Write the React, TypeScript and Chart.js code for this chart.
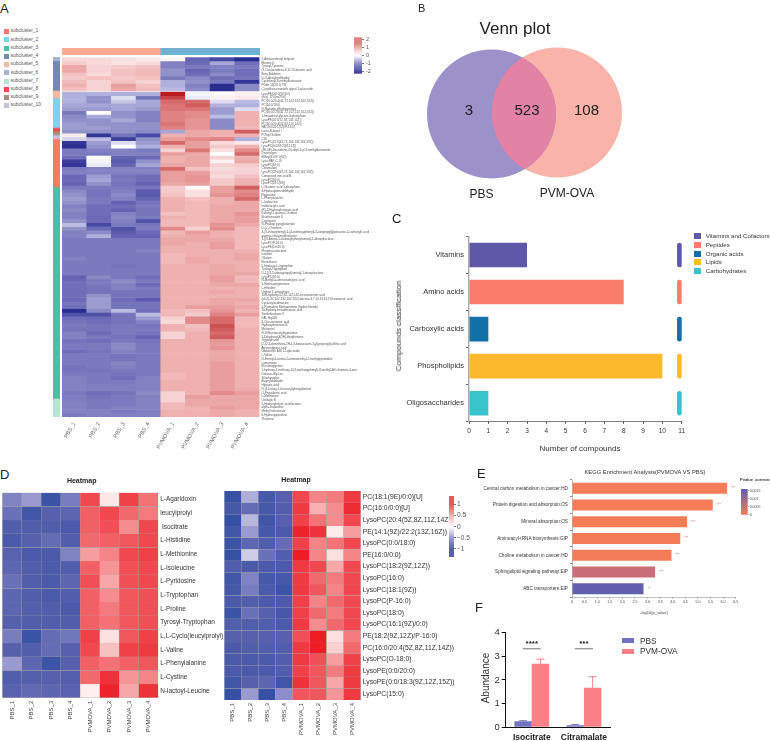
import React, { useEffect, useRef } from "react";
import { Chart, registerables } from "chart.js";

Chart.register(...registerables);

const FONT = "'Liberation Sans', Arial, sans-serif";

// ---------- Panel A ----------
const clusterLegend = ["subcluster_1","subcluster_2","subcluster_3","subcluster_4","subcluster_5","subcluster_6","subcluster_7","subcluster_8","subcluster_9","subcluster_10"];
const clusterColors = ["#f8786a","#7fd3e8","#45c1aa","#7488b5","#fbb8a0","#a8b0d5","#b5e3d5","#f04a4f","#a89080","#d0bce0"];
const rowClusterSizes = [1,8,2,8,1,1,1,13,57,5];
const rowClusterIdx = [5,3,4,1,7,8,9,0,2,6];
const samplesA = ["PBS_1","PBS_2","PBS_3","PBS_4","PVMOVA_1","PVMOVA_2","PVMOVA_3","PVMOVA_4"];
const metaboliteNames = [
"2-Aminoisobutyl butyrate","Blenoin D","Tyrosyl-Tyrosine","(9-Oxo)octadeca-9,11,13-trienoic acid","Beta-Boldenin","D-O-Acetylmellitoidal","Cyclohexyl 3-methylbutanoate","PGde 53(24:1(7/3)","(-)-epitheo-enantiols glycol 1-glucoside",
"LysoPE(0/0:0(9Z/9:0)","(m/z) 12:0(m/20:0)","PC(16:0/20:4(4Z,7Z,10Z,13Z,16Z,19Z))","PC(14:0/18:0)","N-Nonadecylhydrogenase","PC(16:0/22:6(4Z,7Z,10Z,13Z,16Z,19Z))","1-hexadecyl glycero-3-phosphate","LysoPE(20:5(7Z,9Z,13Z,15Z))","PC(16:0/20:4(5Z,8Z,11Z,14Z))","PA(18:0/20:1(5Z)/P-16:0)",
"Lacto-N-biose I","P-Tolyl Sulfate","C16","LysoPC(22:6(4Z,7Z,10Z,13Z,16Z,19Z))","LysoPC(0:0/18:2(9Z,12Z))","(3E,5E)-Decadiene-4,6-diyn-1-yl 3-methylbutanoate","Diosmogen","BMoyl(4:0/9:1(9Z))","Lyso-PAF C-16","LysoPC(18:0)","Citramalate","LysoPC(22:6(4Z,7Z,10Z,13Z,16Z,19Z))","Compound iron acid B","LysoPC(18:0)","LysoPC(18:1(9Z))",
"L-Glutamic acid 5-phosphate","4-Hydroxybenzaldehyde","Pagosirine","L-Phenylalanine","L-Isoleucine","Indoleacrylic acid","(R)-2-Hydroxybutanoic acid","Dolichyl-Lupanoic-Ocidase","Bisdesmoside D","Corylopsin","N-Pivaloyl pyroglutamate","D-(+)-Ornithine","3-(3-chlorophenyl)-1-(4-methoxyphenyl)-3-oxopropyl]piperazine-2-carboxylic acid","gamma-Glutamylthreonine","1-[(3-Amino-5-carbonyl)phenylamino]-1-deoxyfructose","LysoPC(P-16:0)","LysoPE(0:0/20:0)","Phegmacrolactone","Isoxatin","Oliotine","Benzofuran","5-Hydroxy-L-tryptophan","Tyrosyl-Tryptophan","D-1-[(3-Carboxypropyl)amino]-1-deoxyfructose","LysoPC(18:0)","N-Methyl-a-aminoisobutyric acid","5-Methoxytryptamine","L-Histidine","Uridine 2'-phosphate","16R-hydroxy-5Z,8Z,11Z,14Z-eicosatrienoic acid","(all-Z)-3Z,10Z,13Z,16Z,19Z)-docosa-4,7,10,13,16,19-hexaenoic acid","Cyclamylosidinacine","4-Pyrimidine Methanamine (hydrochloride)","16-hydroxy-hexadecanoic acid","Senkirkinolone II","KAI, Hg068","8-Oxo-nonenoic acid","Hydroxydestrusin B","Malvenin I","N-Trifluoroacetyltryptamine","2-Dihydroxy-3(2H)-thiophenone","Tryptophanol","[2-(2-1-dimethoxy-2H-1,3-benzoxazin-3-yl)propanyl]sulfinic acid","Aminoadipinic acid","Gibberellin A30 12-glucoside","L-Valine","N-Formyl-4-amino-5-aminomethyl-2-methylpyrimidine","Lamotrione","Prostinoglycone","1-hydroxy-7-methoxy-3-(3-methoxyphenyl)-8-methyl-4H-chromen-4-one","Dakosa-Gly-Leu","Sikiahyrodins","Butyrylaldehyde","Hippuric acid","N-(1-Deoxy-1-fructosyl)phenylalanine","O-Pentafarnic acid","L-Methionine","Ustilagin B","2-Hydroxybutyric acid lactone","alpha-Dopamine","Methyl nonanoate","8-Hydroxyquinoline","Thiourea"
];
const heatA = [
[.5,.5,.4,.3,.15,-1.7,-2,-2.3],[.7,.5,.4,.5,-1.2,-1.6,-.8,-1.5],[1.1,.6,.7,.8,-1.2,-1.3,-1.2,-1.3],[1.1,.6,.8,.9,-1,-1.7,-1.3,-1.5],[.8,.5,.8,.9,-1,-1.5,-1.1,-1.5],[.7,.8,.7,.8,-1.3,-1.1,-1.5,-1.4],[.9,.6,.8,.6,-.7,-1,-1.3,-2.2],[1,.6,1.2,.8,-.7,-1.2,-2.3,-1.1],[.8,.6,1.1,.9,-.6,-1.1,-2.3,-1.1],
[-.7,-.7,-.7,-.7,2.3,-.1,.1,.2],[-.7,-1,-.3,-1.4,2,-.2,.2,.3],[-.7,-1,-.5,-.8,1.7,1.7,-.3,-.6],[-.8,-.8,-.8,-.8,1.6,1.8,-.7,-.7],[-.9,-.9,-.8,-.9,1.6,1.6,-.9,-.3],[-1.3,.05,-1,-1.2,1.5,1.4,-.9,1],[-1.1,-.8,-1,-1.2,1.5,1.4,-.6,1],[-1,-1,-.8,-1.2,1.5,1.3,-1.1,1],[-.9,-1,-1,-1,1.6,1.3,-1.1,1],[-.9,-.9,-1,-1,1.5,1.3,-1.1,.9],
[-1,-1,-1,-1.1,-.8,1.1,1,1.8],[.25,-2.2,-1.4,-2,1,1.1,1,1],[-.4,-.6,-2.1,-1,1.2,1.4,1.5,-.7],[-2.2,-.9,-.3,-.9,1.7,1.2,.5,.3],[-2.4,-1,0,-.7,1,1.2,.7,1],[-1.3,-1.2,-1.2,-1.3,.6,1.6,.4,1.4],[-1.3,-1.3,-1.2,-1.2,1.2,1.1,0,1.7],[-1.5,.05,-1.7,-1.6,1,1.1,.6,1],[-2.1,-.1,-1.8,-1,1,1.1,.2,1.1],[-2.2,-.2,-1.7,-.8,1.1,1.1,.6,.7],[-1.3,-1.2,-1.2,-1.2,1.7,.8,.5,.6],[-1.2,-1.2,-1.2,-1.2,1.2,1.2,.6,.6],[-1.6,-.9,-1.4,-1.5,1.2,1.3,.5,.8],[-1.6,-.8,-1.3,-1.5,1.2,1.3,.7,1],[-1.7,-1,-1.4,-1.7,1.1,1.2,.7,1],
[-1.3,-1.3,-1.3,-1.4,.7,0,1.2,1.8],[-1.1,-1.4,-1.2,-1.8,.7,.4,1.2,1.4],[-1,-1.4,-1.1,-1.8,.8,.4,1.3,1.5],[-.9,-1.3,-1.2,-1.7,1,.8,1,1.7],[-1,-1.3,-1.7,-1.4,1,.9,1,1.1],[-1.2,-1.5,-1.5,-1.3,1,.9,1.1,1.1],[-1.1,-1.5,-1.7,-1.4,1,.9,1.1,1.1],[-1.2,-1.5,-1.2,-1.4,.8,.9,1.1,1.3],[-1.2,-1.6,-1.1,-1.3,1,.9,1.1,1.2],[-1,-1.6,-1.2,-1.9,.9,.9,1.1,1.2],[-.6,-2,-1.3,-1.4,.9,.9,1.3,1.1],[-1,-1.6,-1.9,-1.3,1.4,.6,1.4,.9],[-1.2,-1.1,-1.8,-1.6,.9,1.2,1,.9],[-1.2,-.7,-1.7,-1.7,1,1.1,1,.9],
[-1.3,-1.3,-1.3,-1.3,1.1,1.1,1.1,.9],[-1.3,-1.3,-1.3,-1.3,1.1,1,1.2,.9],[-1.3,-1.3,-1.3,-1.3,1,1,1.2,.9],[-1.3,-1.3,-1.3,-1.2,1,1,1,1],[-1.3,-1.3,-1.3,-1.3,.9,1,1,1.1],[-1.2,-1.3,-1.3,-1.3,.9,1.1,1,1.1],[-1.3,-1.3,-1.3,-1.3,.9,1.1,1,1],[-1.3,-1.3,-1.4,-1.3,1,1,1.1,1],[-1.3,-1.3,-1.3,-1.3,1,1,1.1,1],[-1.3,-1.3,-1.3,-1.3,1,1,1.1,1.1],
[-1.7,-1.1,-1.3,-1.5,1,1,1.2,.9],[-1.6,-1.3,-1.1,-1.3,1,1,1.2,.9],[-1.5,-1.3,-1.2,-1.6,1,1,1.1,1.1],[-1.5,-1.4,-1.2,-1.3,1,1,1,1],[-1.5,-1.4,-1.4,-1.4,1,1,1.1,1],[-1.5,-1,-1.4,-1.4,1,1,1,1],[-1.6,-.9,-1.5,-1.8,1,1,1.1,1.1],[-1.4,-.9,-1.4,-1.4,1,1,1.1,1],[-1.5,-.9,-1.4,-1.4,1,1.2,1.2,1.1],[-2.4,-1.1,-.6,-1.5,.9,.8,1.3,1],[-1.9,-1.9,-1.4,-.6,.9,.7,1.5,1.2],[-1.5,-1.6,-1.4,-.9,.6,1.4,1.7,.9],[-1.4,-1.5,-1.4,-1.2,.5,1.4,1.7,.9],[-1.3,-1.4,-1.3,-1.4,1,.8,1.9,.9],[-1.4,-1.4,-1.3,-1.3,1,.9,1.8,1],[-1.2,-1.5,-1.3,-1.4,.6,1,1.7,1],[-1.2,-1.3,-1.4,-1.7,.6,1,1.8,1],[-1.4,-1.5,-1.3,-1.4,1,1,1.3,1],[-1.3,-1.3,-1.1,-1.3,1,1,1.2,1],[-1.3,-1.3,-1.1,-1.3,1,1,1.3,1],[-1.5,-1.4,-1.2,-1.3,1,1,1.1,1],[-1.3,-1.3,-1.4,-1.3,1,1,1.1,1],[-1.3,-1.3,-1.4,-1.3,1,1,1.1,1],
[-1.3,-1.3,-1.15,-1.3,1,1,1.2,1],[-1.4,-1.3,-1.2,-1.3,1,1,1.2,1],[-1.4,-1.4,-1.3,-1.3,1,1,1.2,1],[-1.3,-1.3,-1.4,-1.3,.9,1,1.2,1],[-1.2,-1.3,-1.5,-1.2,.9,1,1.2,1],[-1.2,-1.3,-1.3,-1.2,1,1,1.2,1],[-1.2,-1.25,-1.25,-1.2,1,1,1.2,1],[-1.2,-1.25,-1.25,-1.2,1,1,1.2,1.05],[-1.3,-1.5,-1.4,-1.1,.6,1,1.4,1.2],[-1.25,-1.4,-1.3,-1.2,.6,1.2,1.1,1.1],[-1.25,-1.3,-1.3,-1.2,.6,1.1,1.1,1.1],[-1.2,-1.3,-1.3,-1.2,.9,1.1,1.1,1.1],[-1.2,-1.3,-1.2,-1.2,.9,1,1.2,1.1],[-1.2,-1.2,-1.3,-1.2,1,1,1.1,1],[-1.3,-1.2,-1.2,-1.2,1,1,1.1,1]
];
const topGroupColors = ["#fcab90","#fcab90","#fcab90","#fcab90","#6fb1cf","#6fb1cf","#6fb1cf","#6fb1cf"];
const stopsA: [number, string][] = [[-2.3,"#2a2d90"],[-2,"#4848a5"],[-1.7,"#6464b3"],[-1.3,"#7a7abf"],[-1,"#9292cb"],[-.7,"#b0b0dd"],[-.2,"#eaeaf6"],[0,"#ffffff"],[.6,"#f6d2d2"],[1,"#efb0b0"],[1.5,"#e08282"],[2.3,"#b81c20"]];
const ticksBarA = [2,1,0,-1,-2];

// ---------- Panel B ----------
const vennNames = ["PBS","PVM-OVA"];
const vennCounts = [3,523,108];

// ---------- Panel C ----------
const classNames = ["Vitamins","Amino acids","Carboxylic acids","Phospholipids","Oligosaccharides"];
const classCounts = [3,8,1,10,1];
const classLegend = ["Vitamins and Cofactors","Peptides","Organic acids","Lipids","Carbohydrates"];
const classColors = ["#5f58a6","#f97d6a","#1170a5","#fdb92e","#38c4cc"];

// ---------- Panel D ----------
const samplesD = ["PBS_1","PBS_2","PBS_3","PBS_4","PVMOVA_1","PVMOVA_2","PVMOVA_3","PVMOVA_4"];
const namesD1 = ["L-Agaridoxin","leucylprolyl"," Isocitrate","L-Histidine","L-Methionine","L-Isoleucine","L-Pyridosine","L-Tryptophan","L-Proline","Tyrosyl-Tryptophan","L,L-Cyclo(leucylprolyl)","L-Valine","L-Phenylalanine","L-Cystine","N-lactoyl-Leucine"];
const heatD1 = [
[-.7,-.5,-1.25,-.75,1.1,.15,1.15,.85],[-.85,-1.2,-1,-.95,.95,1.1,.9,.8],[-1.05,-1.05,-1.05,-1.1,.95,1.05,.7,1.1],[-1.1,-1,-.9,-1.05,.9,.95,1,1.1],[-.98,-1.1,-1.1,-.7,.6,.75,1.1,1.15],[-.95,-1.05,-1.1,-1.05,.95,.65,1.05,1.1],[-.85,-1.05,-1.1,-.95,1.05,.55,1.05,1.1],[-.95,-1.05,-1.1,-1.05,.95,.7,1,1.05],[-.95,-1.02,-1.05,-1.1,.95,.8,1,1.05],[-1,-1.05,-1.05,-1.05,.95,.85,1,1.05],[-.75,-1.25,-.9,-.8,1.15,.2,1,1.15],[-1,-1.05,-.9,-1,1.1,.4,1.15,1.2],[-.5,-.95,-1.25,-1,.95,.85,.95,1],[-1.05,-1.02,-1,-1.02,.9,1.25,.65,.75],[-.98,-.92,-.95,-.98,.1,1.35,.55,1.25]
];
const namesD2 = ["PC(18:1(9E)/0:0)[U]","PC(16:0/0:0)[U]","LysoPC(20:4(5Z,8Z,11Z,14Z))","PE(14:1(9Z)/22:2(13Z,16Z))","LysoPC(0:0/18:0)","PE(16:0/0:0)","LysoPC(18:2(9Z,12Z))","LysoPC(16:0)","LysoPC(18:1(9Z))","LysoPC(P-16:0)","LysoPC(18:0)","LysoPC(16:1(9Z)/0:0)","PE(18:2(9Z,12Z)/P-16:0)","PC(16:0/20:4(5Z,8Z,11Z,14Z))","LysoPC(O-18:0)","LysoPE(0:0/20:0)","LysoPE(0:0/18:3(9Z,12Z,15Z))","LysoPC(15:0)"];
const heatD2 = [
[-1.3,-.4,-1.15,-1,1.1,.75,.8,1.2],[-1.15,-.9,-1.15,-1.05,1.2,.5,.7,1.3],[-1.3,-.35,-1.2,-1,1.15,.85,.7,1.1],[-1.2,-.5,-1.15,-1.1,1.35,1.25,.12,.6],[-1.25,-.95,-1.05,-.9,1.15,.75,.85,1.1],[-1.3,-.25,-.85,-1.05,1.4,.75,.2,.75],[-1.05,-1.1,-1.1,-1.1,1.2,1.1,.55,1.1],[-1.2,-.7,-1.15,-1.15,1.2,.9,.8,1.1],[-1.15,-.75,-1.1,-1.25,1.2,1,.75,1.1],[-1.1,-1.05,-1.1,-1.1,1.15,.75,.9,1.1],[-1.25,-.85,-1,-1.15,1.15,.9,.8,1.1],[-1.05,-1.05,-1.05,-1.1,1.2,.7,.9,1.1],[-1,-1,-1,-1,1.05,1.4,.2,.8],[-1.1,-1.05,-1.05,-1.05,1.2,1.4,.3,.9],[-1.1,-1.1,-1.1,-1.05,1.2,1.05,.6,1.15],[-1.1,-1.1,-1.1,-1.05,1.15,1,.8,1.2],[-1.2,-1,-.95,-1.2,1.25,1,.55,1.2],[-1.3,-.5,-1.3,-.6,1,1,.65,1.2]
];
const stopsD: [number, string][] = [[-1.4,"#2c4ca0"],[-1,"#5660ad"],[-.5,"#9a9ad0"],[0,"#ffffff"],[.5,"#f8b0b0"],[1,"#f0575c"],[1.4,"#ee1c25"]];
const ticksBarD = [1,.5,0,-.5,-1];

// ---------- Panel E ----------
const pathways = ["Central carbon metabolism in cancer:HD","Protein digestion and absorption:OS","Mineral absorption:OS","Aminoacyl-tRNA biosynthesis:GIP","Choline metabolism in cancer:HD","Sphingolipid signaling pathway:EIP","ABC transporters:EIP"];
const pathwayValues = [6.16,5.59,4.57,4.3,3.95,3.3,2.84];
const pathwayColors = ["#f47c56","#f47c56","#f47c56","#f47c56","#f47c56","#c96e78","#6260ae"];
const pathwayStars = ["***","***","***","***","***","***","**"];
const stopsE: [number, string][] = [[0,"#f47c56"],[.0016,"#6260ae"]];
const ticksBarE = [.0015,.001,.0005,0];

// ---------- Panel F ----------
const abundanceCats = ["Isocitrate","Citramalate"];
const pbsValues = [.26,.09];
const pvmValues = [2.69,1.67];
const pbsErrorTop = [.28,.12];
const pvmErrorTop = [2.88,2.14];
const bracketValue = [3.32,3.32];
const sigStars = ["****","***"];

// ---------- helpers ----------
type Rect = { l: number; t: number; r: number; b: number };

function hexRgb(h: string) {
  return [parseInt(h.slice(1,3),16),parseInt(h.slice(3,5),16),parseInt(h.slice(5,7),16)];
}
function colorOf(v: number, stops: [number,string][]) {
  if (v <= stops[0][0]) return stops[0][1];
  for (let i = 1; i < stops.length; i++) {
    if (v <= stops[i][0]) {
      const f = (v - stops[i-1][0]) / (stops[i][0] - stops[i-1][0]);
      const a = hexRgb(stops[i-1][1]), b = hexRgb(stops[i][1]);
      return `rgb(${a.map((c,k)=>Math.round(c+(b[k]-c)*f)).join(",")})`;
    }
  }
  return stops[stops.length-1][1];
}
// fix the plot rectangle inside the canvas
function frame(c: Rect, p: Rect, yRight = false) {
  const yW = yRight ? c.r - p.r : p.l - c.l;
  const xH = c.b - p.b;
  return {
    layout: {
      autoPadding: false,
      padding: { left: yRight ? p.l - c.l : 0, right: yRight ? 0 : c.r - p.r, top: p.t - c.t, bottom: 0 },
    },
    fitX: (s: any) => { s.height = xH; },
    fitY: (s: any) => { s.width = yW; },
  };
}
const base = { responsive: false, animation: false as const, events: [] as string[] };
const noPlugins = { legend: { display: false }, tooltip: { enabled: false }, title: { display: false } };

function heatConfig(o: { c: Rect; p: Rect; rows: string[]; cols: string[]; values: number[][]; stops: [number,string][]; rowFont: number; colFont: number; rotation: number; rowColor: string; colColor: string; border?: number; gapAfter?: number; gap?: number; colPad?: number; }) {
  const f = frame(o.c, o.p, true);
  const gap = o.gap ?? 0, gapAfter = o.gapAfter ?? -1;
  const datasets: any[] = [];
  o.values.forEach((row, i) => {
    datasets.push({
      label: o.rows[i], data: row.map(() => 1),
      backgroundColor: row.map((v) => colorOf(v, o.stops)),
      borderColor: "#a8a8a8", borderWidth: o.border ?? 0, borderSkipped: false,
      barPercentage: 1, categoryPercentage: 1,
    });
    if (i === gapAfter) datasets.push({ label: "gap", data: row.map(() => gap), backgroundColor: "rgba(255,255,255,0)", barPercentage: 1, categoryPercentage: 1 });
  });
  const total = o.values.length + gap;
  const pos = o.rows.map((_, i) => i + .5 + (i > gapAfter && gapAfter >= 0 ? gap : 0));
  return {
    type: "bar",
    data: { labels: o.cols, datasets },
    options: {
      ...base, layout: f.layout,
      plugins: noPlugins,
      scales: {
        x: { stacked: true, afterFit: f.fitX, grid: { display: false, drawTicks: false }, border: { display: false },
          ticks: { autoSkip: false, minRotation: o.rotation, maxRotation: o.rotation, padding: o.colPad ?? 2, font: { size: o.colFont, family: FONT }, color: o.colColor } },
        y: { stacked: true, position: "right", reverse: true, min: 0, max: total, afterFit: f.fitY,
          afterBuildTicks: (s: any) => { s.ticks = pos.map((v) => ({ value: v })); },
          grid: { display: false, drawTicks: false }, border: { display: false },
          ticks: { autoSkip: false, padding: 2, font: { size: o.rowFont, family: FONT }, color: o.rowColor,
            callback: (_: any, i: number) => o.rows[i] } },
      },
    },
  };
}

function barConfig(o: { c: Rect; p: Rect; min: number; max: number; ticks: number[]; stops: [number,string][]; font: number; color: string; pad: number; tickLen: number; fmt?: (v:number)=>string }) {
  const f = frame(o.c, o.p, true);
  return {
    type: "bar",
    data: { labels: ["scale"], datasets: [{
      data: [[o.min, o.max]], barPercentage: 1, categoryPercentage: 1, borderSkipped: false,
      backgroundColor: (ctx: any) => {
        const ca = ctx.chart.chartArea;
        if (!ca) return o.stops[0][1];
        const g = ctx.chart.ctx.createLinearGradient(0, ca.bottom, 0, ca.top);
        o.stops.forEach(([v]) => { const t = (v - o.min) / (o.max - o.min); if (t >= 0 && t <= 1) g.addColorStop(t, colorOf(v, o.stops)); });
        return g;
      },
    }] },
    options: {
      ...base, layout: f.layout, plugins: noPlugins,
      scales: {
        x: { display: true, afterFit: (s: any) => { s.height = 0; }, grid: { display: false, drawTicks: false }, border: { display: false }, ticks: { display: false } },
        y: { position: "right", min: o.min, max: o.max, afterFit: f.fitY,
          afterBuildTicks: (s: any) => { s.ticks = o.ticks.map((v) => ({ value: v })); },
          grid: { drawOnChartArea: false, drawTicks: true, tickLength: o.tickLen, color: "#777" }, border: { display: false },
          ticks: { autoSkip: false, padding: o.pad, font: { size: o.font, family: FONT }, color: o.color, callback: (v: number) => o.fmt ? o.fmt(v) : String(v) } },
      },
    },
  };
}

function vennConfig() {
  const c: Rect = { l: 420, t: 40, r: 630, b: 185 };
  const f = frame(c, c);
  const overlap = {
    id: "overlap",
    afterDatasetsDraw(chart: any) {
      const a = chart.getDatasetMeta(0).data[0], b = chart.getDatasetMeta(1).data[0];
      const g = chart.ctx;
      g.save(); g.beginPath(); g.arc(a.x, a.y, a.options.radius, 0, Math.PI * 2); g.clip();
      g.beginPath(); g.arc(b.x, b.y, b.options.radius, 0, Math.PI * 2); g.fillStyle = "#e482a5"; g.fill(); g.restore();
    },
  };
  return {
    type: "bubble",
    plugins: [overlap],
    data: { datasets: [
      { label: vennNames[0], data: [{ x: 71.5, y: 74, r: 64.5 }], backgroundColor: "#9c91c8", borderWidth: 0, clip: false },
      { label: vennNames[1], data: [{ x: 137, y: 72.5, r: 65 }], backgroundColor: "#f9b3a8", borderWidth: 0, clip: false },
    ] },
    options: { ...base, layout: f.layout, plugins: noPlugins,
      scales: {
        x: { min: 0, max: 210, afterFit: f.fitX, grid: { display: false, drawTicks: false }, border: { display: false }, ticks: { display: false } },
        y: { min: 0, max: 145, reverse: true, afterFit: f.fitY, grid: { display: false, drawTicks: false }, border: { display: false }, ticks: { display: false } },
      } },
  };
}

function classConfig() {
  const c: Rect = { l: 395, t: 230, r: 700, b: 445 };
  const p: Rect = { l: 469, t: 236, r: 681.7, b: 421.7 };
  const f = frame(c, p);
  return {
    type: "bar",
    data: { labels: classNames, datasets: [
      { data: classCounts, backgroundColor: classColors, barPercentage: .663, categoryPercentage: 1, grouped: false },
      { data: classNames.map(() => [10.76, 11.02]), backgroundColor: classColors, barPercentage: .663, categoryPercentage: 1, grouped: false, borderRadius: 2.5, borderSkipped: false },
    ] },
    options: { ...base, indexAxis: "y", layout: f.layout, plugins: noPlugins,
      scales: {
        x: { min: 0, max: 11, afterFit: f.fitX, grid: { drawOnChartArea: false, tickLength: 2, color: "#444" }, border: { color: "#444", width: .7 },
          ticks: { stepSize: 1, padding: 4, font: { size: 6.5, family: FONT }, color: "#333" } },
        y: { afterFit: f.fitY, grid: { drawOnChartArea: false, tickLength: 3, color: "#666" }, border: { color: "#aaa", width: 1.4 },
          ticks: { padding: 2, font: { size: 7.5, family: FONT }, color: "#333" } },
      } },
  };
}

function keggConfig() {
  const c: Rect = { l: 470, t: 475, r: 745, b: 610 };
  const p: Rect = { l: 572, t: 480, r: 735.7, b: 597 };
  const f = frame(c, p);
  const stars = {
    id: "stars",
    afterDatasetsDraw(chart: any) {
      const g = chart.ctx;
      g.save(); g.font = `3.5px ${FONT}`; g.fillStyle = "#f05a5a"; g.textBaseline = "middle";
      chart.getDatasetMeta(0).data.forEach((el: any, i: number) => g.fillText(pathwayStars[i], el.x + 4, el.y));
      g.restore();
    },
  };
  return {
    type: "bar",
    plugins: [stars],
    data: { labels: pathways, datasets: [{ data: pathwayValues, backgroundColor: pathwayColors, barPercentage: .66, categoryPercentage: 1 }] },
    options: { ...base, indexAxis: "y", layout: f.layout, plugins: noPlugins,
      scales: {
        x: { min: 0, max: 6.5, afterFit: f.fitX, grid: { drawOnChartArea: false, tickLength: 1.5, color: "#777" }, border: { color: "#999", width: .6 },
          ticks: { stepSize: .5, padding: 1.5, font: { size: 3.6, family: FONT }, color: "#444" } },
        y: { afterFit: f.fitY, grid: { drawOnChartArea: false, tickLength: 2, color: "#888" }, border: { color: "#aaa", width: .8 },
          ticks: { padding: 2, font: { size: 4.7, family: FONT }, color: "#333" } },
      } },
  };
}

function abundanceConfig() {
  const c: Rect = { l: 480, t: 625, r: 615, b: 741 };
  const p: Rect = { l: 505.7, t: 630, r: 610, b: 727.3 };
  const f = frame(c, p);
  const extras = {
    id: "extras",
    afterDatasetsDraw(chart: any) {
      const g = chart.ctx, y = chart.scales.y, x = chart.scales.x;
      g.save();
      [[0,pbsErrorTop,"#5a5aa8"],[1,pvmErrorTop,"#e8686e"]].forEach(([d,tops,col]: any) => {
        chart.getDatasetMeta(d).data.forEach((el: any, i: number) => {
          const yt = y.getPixelForValue(tops[i]);
          g.strokeStyle = col; g.lineWidth = .8;
          g.beginPath(); g.moveTo(el.x, el.y); g.lineTo(el.x, yt); g.moveTo(el.x - 4, yt); g.lineTo(el.x + 4, yt); g.stroke();
        });
      });
      abundanceCats.forEach((_, i) => {
        const cx = x.getPixelForValue(i), by = y.getPixelForValue(bracketValue[i]);
        g.strokeStyle = "#333"; g.lineWidth = .7;
        g.beginPath(); g.moveTo(cx - 9, by); g.lineTo(cx + 9, by); g.stroke();
        g.fillStyle = "#222"; g.font = `bold 8px ${FONT}`; g.textAlign = "center"; g.textBaseline = "middle";
        g.fillText(sigStars[i], cx, by - 5);
      });
      g.restore();
    },
  };
  return {
    type: "bar",
    plugins: [extras],
    data: { labels: abundanceCats, datasets: [
      { label: "PBS", data: pbsValues, backgroundColor: "#7272c0", barPercentage: 1, categoryPercentage: .667 },
      { label: "PVM-OVA", data: pvmValues, backgroundColor: "#f98085", barPercentage: 1, categoryPercentage: .667 },
    ] },
    options: { ...base, layout: f.layout, plugins: noPlugins,
      scales: {
        x: { afterFit: f.fitX, grid: { display: false, drawTicks: false }, border: { color: "#111", width: 1 },
          ticks: { padding: 5, minRotation: 0, maxRotation: 0, autoSkip: false, font: { size: 8.5, weight: "bold", family: FONT }, color: "#222" } },
        y: { min: 0, max: 4, afterFit: f.fitY, grid: { drawOnChartArea: false, tickLength: 4, color: "#111", lineWidth: 1 }, border: { color: "#111", width: 1 },
          ticks: { stepSize: 1, padding: 2, font: { size: 9.5, family: FONT }, color: "#333" } },
      } },
  };
}

function singleStack() {
  const c: Rect = { l: 53.3, t: 57.3, r: 60.3, b: 417 };
  const f = frame(c, c);
  return {
    type: "bar",
    data: { labels: ["cluster"], datasets: rowClusterSizes.map((n, i) => ({
      data: [n], backgroundColor: clusterColors[rowClusterIdx[i]], barPercentage: 1, categoryPercentage: 1,
    })) },
    options: { ...base, layout: f.layout, plugins: noPlugins, scales: {
      x: { stacked: true, afterFit: f.fitX, display: true, grid: { display: false, drawTicks: false }, border: { display: false }, ticks: { display: false } },
      y: { stacked: true, reverse: true, min: 0, max: metaboliteNames.length, afterFit: f.fitY, grid: { display: false, drawTicks: false }, border: { display: false }, ticks: { display: false } },
    } },
  };
}

function topStrip() {
  const c: Rect = { l: 62, t: 48, r: 259.5, b: 55 };
  const f = frame(c, c);
  return {
    type: "bar",
    data: { labels: samplesA, datasets: [{ data: samplesA.map(() => 1), backgroundColor: topGroupColors, barPercentage: 1, categoryPercentage: 1 }] },
    options: { ...base, layout: f.layout, plugins: noPlugins, scales: {
      x: { afterFit: f.fitX, grid: { display: false, drawTicks: false }, border: { display: false }, ticks: { display: false } },
      y: { min: 0, max: 1, afterFit: f.fitY, grid: { display: false, drawTicks: false }, border: { display: false }, ticks: { display: false } },
    } },
  };
}

// ---------- components ----------
function Plot({ rect, make }: { rect: Rect; make: () => any }) {
  const ref = useRef<HTMLCanvasElement>(null);
  useEffect(() => {
    const chart = new Chart(ref.current as any, make());
    return () => chart.destroy();
  }, []);
  return (
    <canvas ref={ref} width={rect.r - rect.l} height={rect.b - rect.t}
      style={{ position: "absolute", left: rect.l, top: rect.t, width: rect.r - rect.l, height: rect.b - rect.t, display: "block" }} />
  );
}

function T({ x, y, s, size, color = "#222", weight = 400, a = "l", rot = 0 }: any) {
  const tx = a === "c" ? "-50%" : a === "r" ? "-100%" : "0";
  return (
    <div style={{ position: "absolute", left: x, top: y, fontFamily: FONT, fontSize: size, color, fontWeight: weight, lineHeight: 1, whiteSpace: "pre",
      transform: `translate(${tx},-50%)${rot ? ` rotate(${rot}deg)` : ""}` }}>{s}</div>
  );
}
function Sq({ x, y, w, h, c }: any) {
  return <div style={{ position: "absolute", left: x, top: y - h / 2, width: w, height: h, background: c }} />;
}

const rA: Rect = { l: 40, t: 40, r: 385, b: 460 };
const rAp: Rect = { l: 62, t: 57.3, r: 259.5, b: 417 };
const rD1: Rect = { l: 0, t: 485, r: 235, b: 741 };
const rD1p: Rect = { l: 2.3, t: 492.7, r: 158.3, b: 697.7 };
const rD2: Rect = { l: 215, t: 485, r: 460, b: 741 };
const rD2p: Rect = { l: 224.3, t: 490.7, r: 360.7, b: 700 };
const rBarA: Rect = { l: 354, t: 32, r: 380, b: 79 };
const rBarAp: Rect = { l: 354, t: 32, r: 362, b: 79 };
const rBarD: Rect = { l: 449, t: 491, r: 475, b: 562.3 };
const rBarDp: Rect = { l: 449, t: 491, r: 454, b: 562.3 };
const rBarE: Rect = { l: 741, t: 486, r: 770, b: 518 };
const rBarEp: Rect = { l: 741, t: 486, r: 747.7, b: 518 };

export default function App() {
  useEffect(() => { document.body.style.margin = "0"; document.body.style.background = "#fff"; }, []);
  return (
    <div style={{ position: "absolute", left: 0, top: 0, width: 770, height: 741, overflow: "hidden", background: "#fff" }}>
      {/* A */}
      <T x={0} y={8} s="A" size={13} />
      {clusterLegend.map((n, i) => (
        <React.Fragment key={n}>
          <Sq x={4} y={31.7 + i * 8.22} w={5} h={5} c={clusterColors[i]} />
          <T x={10.5} y={31.4 + i * 8.22} s={n} size={4.9} color="#555" />
        </React.Fragment>
      ))}
      <Plot rect={{ l: 62, t: 48, r: 259.5, b: 55 }} make={topStrip} />
      <Plot rect={{ l: 53.3, t: 57.3, r: 60.3, b: 417 }} make={singleStack} />
      <Plot rect={rA} make={() => heatConfig({ c: rA, p: rAp, rows: metaboliteNames, cols: samplesA, values: heatA, stops: stopsA, rowFont: 3, colFont: 5.6, rotation: 60, rowColor: "#555", colColor: "#666", gapAfter: 8, gap: .3, colPad: 4 })} />
      <Plot rect={rBarA} make={() => barConfig({ c: rBarA, p: rBarAp, min: -2.29, max: 2.26, ticks: ticksBarA, stops: stopsA, font: 5.5, color: "#555", pad: 2, tickLen: 2 })} />

      {/* B */}
      <T x={418} y={8} s="B" size={11} />
      <T x={515} y={28} s="Venn plot" size={17} a="c" />
      <Plot rect={{ l: 420, t: 40, r: 630, b: 185 }} make={vennConfig} />
      <T x={469} y={109} s={String(vennCounts[0])} size={15} a="c" />
      <T x={527} y={109} s={String(vennCounts[1])} size={15} a="c" />
      <T x={586.5} y={109} s={String(vennCounts[2])} size={15} a="c" />
      <T x={481.5} y={194} s={vennNames[0]} size={12} a="c" />
      <T x={567} y={193} s={vennNames[1]} size={12} a="c" />

      {/* C */}
      <T x={392} y={218} s="C" size={13} />
      <Plot rect={{ l: 395, t: 230, r: 700, b: 445 }} make={classConfig} />
      <T x={399} y={326} s="Compounds classification" size={8} a="c" rot={-90} color="#333" />
      <T x={580} y={448.5} s="Number of compounds" size={8} a="c" color="#333" />
      {classLegend.map((n, i) => (
        <React.Fragment key={n}>
          <Sq x={694.3} y={236 + i * 8.75} w={6.4} h={6} c={classColors[i]} />
          <T x={705.7} y={236 + i * 8.75} s={n} size={6.2} color="#333" />
        </React.Fragment>
      ))}

      {/* D */}
      <T x={0} y={474} s="D" size={13} />
      <T x={81.7} y={480} s="Heatmap" size={7} weight={700} a="c" />
      <Plot rect={rD1} make={() => heatConfig({ c: rD1, p: rD1p, rows: namesD1, cols: samplesD, values: heatD1, stops: stopsD, rowFont: 6.4, colFont: 6, rotation: 90, rowColor: "#333", colColor: "#444", border: .35, colPad: 3 })} />
      <T x={296} y={479} s="Heatmap" size={7} weight={700} a="c" />
      <Plot rect={rD2} make={() => heatConfig({ c: rD2, p: rD2p, rows: namesD2, cols: samplesD, values: heatD2, stops: stopsD, rowFont: 6.8, colFont: 6, rotation: 90, rowColor: "#333", colColor: "#444", border: .35, colPad: 3 })} />
      <Plot rect={rBarD} make={() => barConfig({ c: rBarD, p: rBarDp, min: -1.37, max: 1.39, ticks: ticksBarD, stops: stopsD, font: 6.5, color: "#555", pad: 1, tickLen: 2, fmt: (v) => (v < 0 ? "\u2212" + Math.abs(v) : String(v)) })} />

      {/* E */}
      <T x={477} y={473} s="E" size={13} />
      <T x={645} y={473} s="KEGG Enrichment Analysis(PVMOVA VS PBS)" size={5.8} a="c" color="#333" />
      <Plot rect={{ l: 470, t: 475, r: 745, b: 610 }} make={keggConfig} />
      <T x={654} y={613} s="-log10(p_value)" size={4} a="c" color="#444" />
      <T x={740} y={480} s="Pvalue_corrected" size={4} weight={700} color="#333" />
      <Plot rect={rBarE} make={() => barConfig({ c: rBarE, p: rBarEp, min: 0, max: .0016, ticks: ticksBarE, stops: stopsE, font: 3.5, color: "#444", pad: 1, tickLen: 1 })} />

      {/* F */}
      <T x={475} y={607} s="F" size={13} />
      <Plot rect={{ l: 480, t: 625, r: 615, b: 741 }} make={abundanceConfig} />
      <T x={486} y={678} s="Abundance" size={10} a="c" rot={-90} color="#333" />
      <Sq x={622.3} y={640.7} w={11.7} h={5} c="#7272c0" />
      <T x={640} y={640.7} s="PBS" size={8.3} color="#333" />
      <Sq x={622.3} y={651} w={11.7} h={5} c="#f98085" />
      <T x={640} y={651} s="PVM-OVA" size={8.3} color="#333" />
    </div>
  );
}
